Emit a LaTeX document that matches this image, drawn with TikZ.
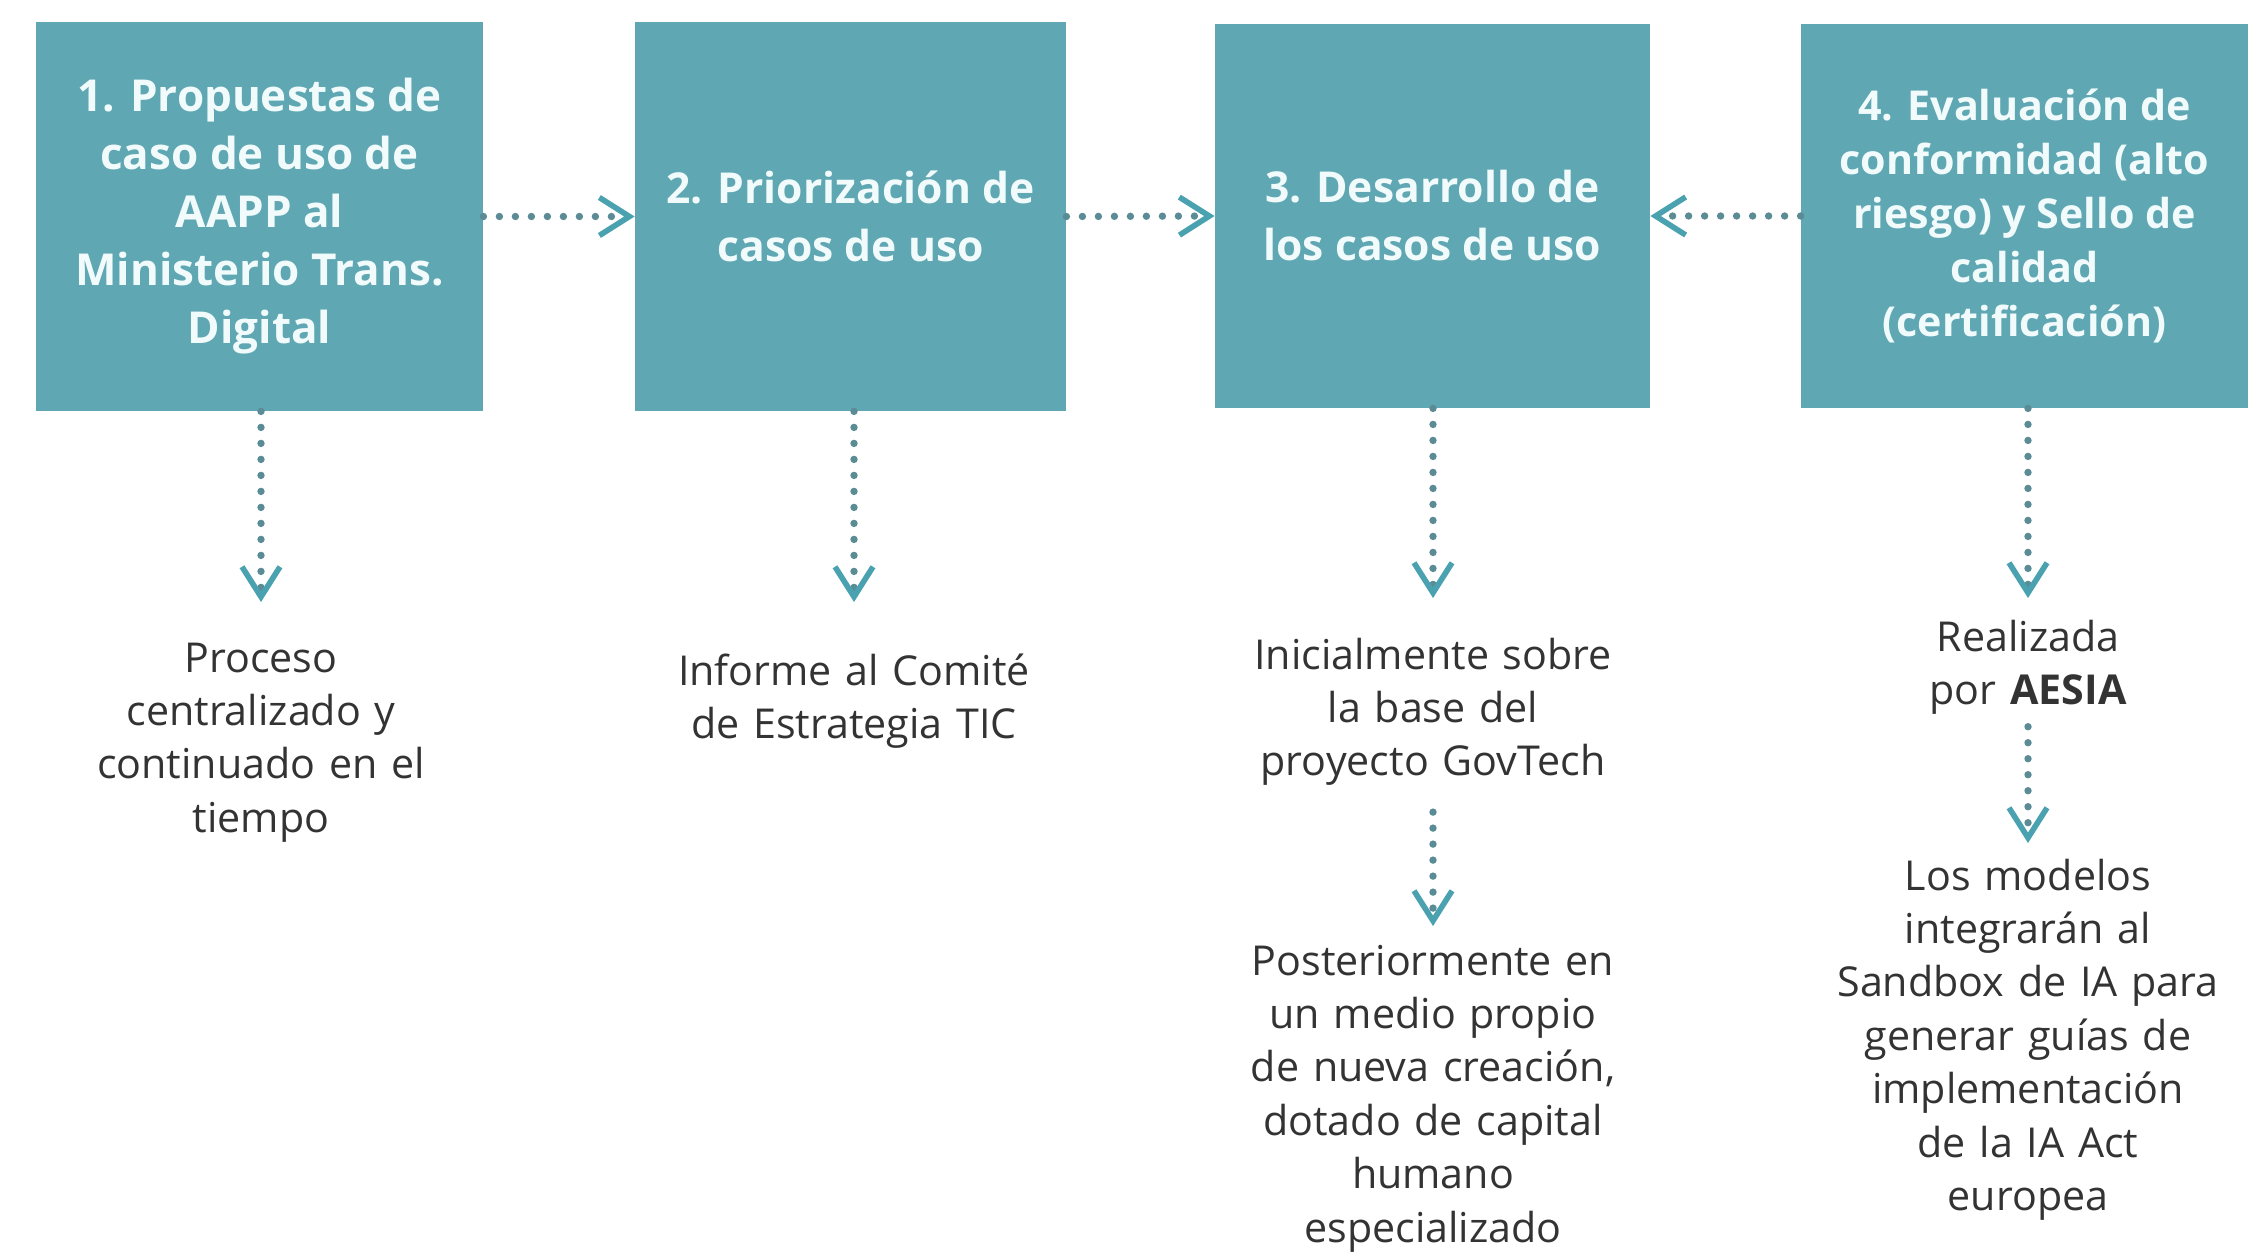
\documentclass[tikz,border=0pt]{standalone}
\usepackage{fontspec}
\setmainfont{Open Sans}
\usetikzlibrary{arrows.meta}
\definecolor{boxfill}{HTML}{5EA7B3}
\definecolor{dotcol}{HTML}{5B8C96}
\definecolor{tipcol}{HTML}{4AA2B0}
\definecolor{txt}{HTML}{333333}
\definecolor{boxtxt}{HTML}{F2FBFB}
\begin{document}
\begin{tikzpicture}[x=0.5pt,y=-0.5pt,
  box/.style={fill=boxfill,text=boxtxt,font=\bfseries\fontsize{21.3}{29}\selectfont,align=center,inner sep=0pt},
  lbl/.style={text=txt,font=\fontsize{20.6}{26.7}\selectfont,align=center,anchor=base,text width=230pt,inner sep=0pt},
  conn/.style={draw=dotcol,line width=3.7pt,line cap=round,dash pattern=on 0pt off 8pt,
    -{Straight Barb[length=15pt,width=19pt,line width=2.8pt,color=tipcol]}}]
\useasboundingbox (0,0) rectangle (2259,1255);
% boxes
\node[box,minimum width=223.5pt,minimum height=194.5pt,font=\bfseries\fontsize{22}{29}\selectfont] (b1) at (259.5,216.5)
  {1. Propuestas de\\caso de uso de\\AAPP al\\Ministerio Trans.\\Digital};
\node[box,minimum width=215.5pt,minimum height=194.5pt] (b2) at (850.5,216.5)
  {2. Priorización de\\casos de uso};
\node[box,minimum width=217.5pt,minimum height=192pt] (b3) at (1432.5,216)
  {3. Desarrollo de\\los casos de uso};
\node[box,minimum width=223.5pt,minimum height=192pt,font=\bfseries\fontsize{20.6}{27}\selectfont] (b4) at (2024.5,216)
  {4. Evaluación de\\conformidad (alto\\riesgo) y Sello de\\calidad\\(certificación)};
% labels
\node[lbl] (l1) at (261,672) {Proceso\\centralizado y\\continuado en el\\tiempo};
\node[lbl] (l2) at (854,685) {Informe al Comité\\de Estrategia TIC};
\node[lbl] (l3) at (1433,669) {Inicialmente sobre\\la base del\\proyecto GovTech};
\node[lbl] (p3) at (1433,975) {Posteriormente en\\un medio propio\\de nueva creación,\\dotado de capital\\humano\\especializado};
\node[lbl] (l4) at (2028,651) {Realizada\\por \textbf{AESIA}};
\node[lbl] (m4) at (2028,890) {Los modelos\\integrarán al\\Sandbox de IA para\\generar guías de\\implementación\\de la IA Act\\europea};
% arrow tips
\coordinate (c1) at (261,602);
\coordinate (c2) at (854,602);
\coordinate (c3) at (1433,598);
\coordinate (c4) at (2028,598);
\coordinate (c3b) at (1433,926);
\coordinate (c4b) at (2028,843);
% connectors
\draw[conn] (b1.east) -- (b2.west);
\draw[conn] (b2.east) -- (b3.west);
\draw[conn] (b4.west) -- (b3.east);
\draw[conn] (b1.south -| c1) -- (c1);
\draw[conn] (b2.south -| c2) -- (c2);
\draw[conn] (b3.south -| c3) -- (c3);
\draw[conn] (b4.south -| c4) -- (c4);
\draw[conn,shorten <=13pt] (l3.south) -- (c3b);
\draw[conn,shorten <=6pt] (l4.south) -- (c4b);
\end{tikzpicture}
\end{document}
